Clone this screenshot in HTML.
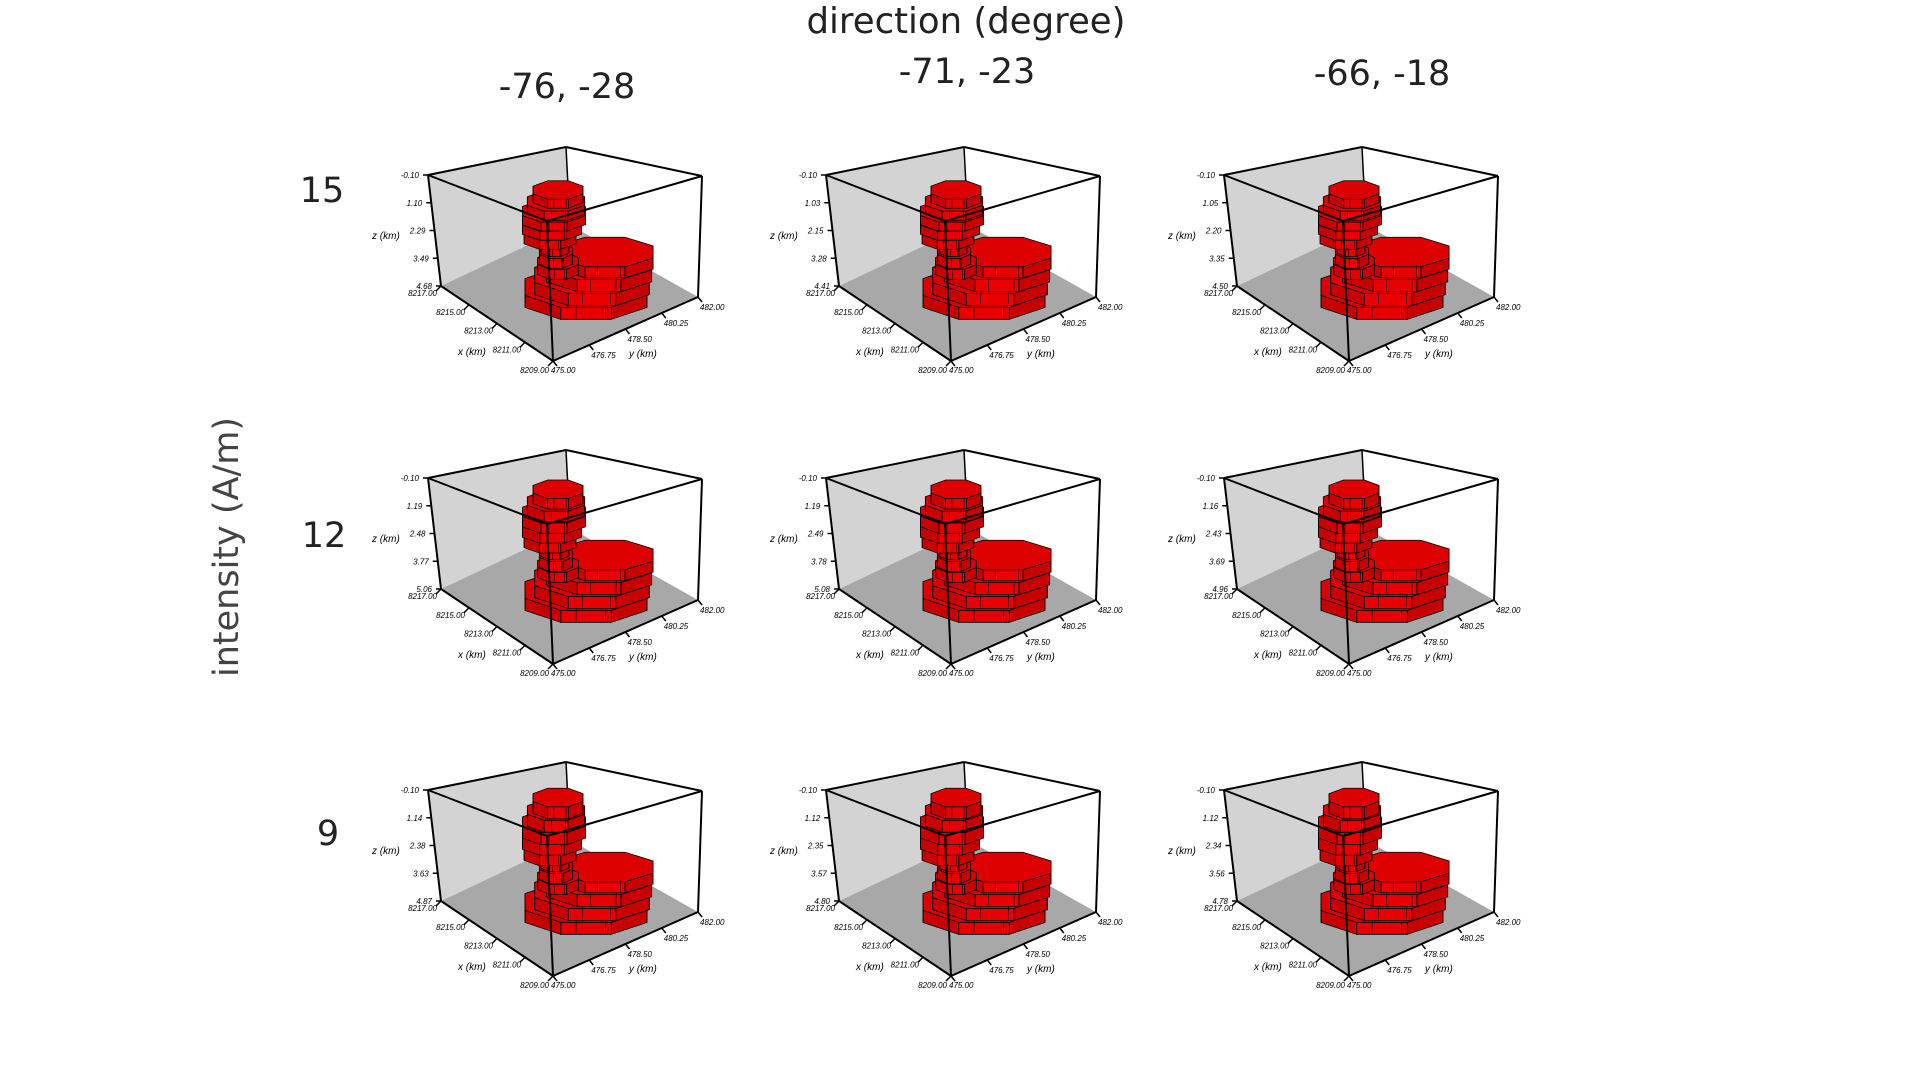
<!DOCTYPE html>
<html><head><meta charset="utf-8"><style>
body{margin:0;background:#fff;}
svg{display:block;font-family:"Liberation Sans",sans-serif;}
.big{font-family:"DejaVu Sans","Liberation Sans",sans-serif;}
</style></head><body>
<svg id="fig" width="1920" height="1080" viewBox="0 0 1920 1080" xmlns="http://www.w3.org/2000/svg">
<text class="big" x="966" y="33" font-size="35.5" text-anchor="middle" fill="#222">direction (degree)</text>
<text class="big" transform="translate(238,547) rotate(-90)" font-size="35" text-anchor="middle" fill="#444">intensity (A/m)</text>
<g id="panels"></g>
</svg>
<script>
const colTitles = ["-76, -28", "-71, -23", "-66, -18"];
const rowTitles = ["15", "12", "9"];
const zTicksR1 = [["-0.10","1.10","2.29","3.49","4.68"],["-0.10","1.03","2.15","3.28","4.41"],["-0.10","1.05","2.20","3.35","4.50"]];
const zTicksR2 = [["-0.10","1.19","2.48","3.77","5.06"],["-0.10","1.19","2.49","3.78","5.08"],["-0.10","1.16","2.43","3.69","4.96"]];
const zTicksR3 = [["-0.10","1.14","2.38","3.63","4.87"],["-0.10","1.12","2.35","3.57","4.80"],["-0.10","1.12","2.34","3.56","4.78"]];
const xTicks = ["8217.00","8215.00","8213.00","8211.00","8209.00"];
const yTicks = ["475.00","476.75","478.50","480.25","482.00"];
const zRows = [zTicksR1, zTicksR2, zTicksR3];
const NS="http://www.w3.org/2000/svg";
const root=document.getElementById('panels');
const colTitleX=[567,967,1382], colTitleY=[98,83,85];
const rowTitleX=[322,324,328], rowTitleY=[202,547,845];
const rowY=[175,478,790];
function mk(tag,attrs,parent){const e=document.createElementNS(NS,tag);for(const k in attrs)e.setAttribute(k,attrs[k]);parent.appendChild(e);return e;}
colTitles.forEach((t,i)=>{const e=mk('text',{x:colTitleX[i],y:colTitleY[i],'font-size':35,'text-anchor':'middle',fill:'#222',class:'big'},root);e.textContent=t;

});
rowTitles.forEach((t,i)=>{const e=mk('text',{x:rowTitleX[i],y:rowTitleY[i],'font-size':35,'text-anchor':'middle',fill:'#222',class:'big'},root);e.textContent=t;

});
const TL=[0,0],B=[138,-28],TR=[274,1],F=[119,46],BL=[13,111],BF=[125,186],BR=[270,122],BB=[142,50];
const pts=a=>a.map(p=>p.join(',')).join(' ');
function lerp(a,b,t){return [a[0]+(b[0]-a[0])*t,a[1]+(b[1]-a[1])*t];}
function slab(g,cx,cy,rx,ry,h){
  const P=[];for(let k=0;k<8;k++){const a=(k*45+22.5)*Math.PI/180;P.push([cx+rx*Math.cos(a),cy+ry*Math.sin(a)]);}
  for(let k=0;k<8;k++){const p1=P[k],p2=P[(k+1)%8];if((p1[1]+p2[1])/2>=cy-0.5){
    const s=mk('polygon',{points:pts([p1,p2,[p2[0],p2[1]+h],[p1[0],p1[1]+h]]),fill:k%2?'#e80000':'#c80000',stroke:'#000','stroke-width':0.8},g);
    
    }}
  const t=mk('polygon',{points:pts(P),fill:'#dd0000',stroke:'#000','stroke-width':0.8},g);
  
  
  for(let j=1;j<3;j++){const x=cx-rx*0.6+j*rx*0.45;mk('line',{x1:x,y1:cy+ry*0.85,x2:x,y2:cy+ry*0.85+h,stroke:'#000','stroke-width':0.6},g);}
}
const lower=[[158,112,66,22,12],[164,100,62,20,12],[171,88,57,18,12],[177,77,52,16,11]];
const neck=[[130,86,22,9,10],[128,76,18,8,10],[127,66,15,6,10]];
const head=[[122,56,28,10,9],[124,46,32,11,9],[126,36,34,12,9],[128,26,31,11,9],[130,15,27,10,9]];
for(let r=0;r<3;r++)for(let c=0;c<3;c++){
  const g=mk('g',{transform:`translate(${428+c*398},${rowY[r]})`},root);
  
  
  const lw=mk('polygon',{points:pts([TL,B,BB,BL]),fill:'#d3d3d3'},g);
  
  const fl=mk('polygon',{points:pts([BL,BB,BR,BF]),fill:'#a8a8a8'},g);
  
  mk('line',{x1:B[0],y1:B[1],x2:BB[0],y2:BB[1],stroke:'#000','stroke-width':1.5},g);
  const stretch=r*6;
  lower.forEach(s=>slab(g,s[0],s[1],s[2],s[3],s[4]));
  neck.forEach(s=>slab(g,s[0],s[1],s[2],s[3],s[4]));
  head.forEach((s,i)=>slab(g,s[0],s[1]-stretch*0.25*(i+1)/2,s[2],s[3],s[4]+stretch*0.25));
  [[TL,B],[B,TR],[TL,F],[F,TR],[TL,BL],[TR,BR],[BL,BF],[BF,BR],[F,BF]].forEach(e=>{
    mk('line',{x1:e[0][0],y1:e[0][1],x2:e[1][0],y2:e[1][1],stroke:'#000','stroke-width':2},g);});
  const zt=zRows[r][c];
  zt.forEach((t,i)=>{const p=lerp(TL,BL,i/4);mk('line',{x1:p[0]-5,y1:p[1],x2:p[0],y2:p[1],stroke:'#000','stroke-width':1.5},g);
    const e=mk('text',{x:p[0]-9,y:p[1]+3,'font-size':8,'font-style':'italic','text-anchor':'end'},g);e.textContent=t;
    });
  xTicks.forEach((t,i)=>{const p=lerp(BL,BF,i/4);mk('line',{x1:p[0],y1:p[1],x2:p[0]-5,y2:p[1]+5,stroke:'#000','stroke-width':1.5},g);
    const e=mk('text',{x:p[0]-4,y:p[1]+(i==4?12:10),'font-size':8,'font-style':'italic','text-anchor':'end'},g);e.textContent=t;
    });
  yTicks.forEach((t,i)=>{const p=lerp(BF,BR,i/4);mk('line',{x1:p[0],y1:p[1],x2:p[0]+4,y2:p[1]+5,stroke:'#000','stroke-width':1.5},g);
    const e=mk('text',{x:p[0]+(i==0?-2:2),y:p[1]+(i==0?12:13),'font-size':8,'font-style':'italic','text-anchor':'start'},g);e.textContent=t;
    });
  const zl=mk('text',{x:-56,y:64,'font-size':10,'font-style':'italic'},g);zl.textContent='z (km)';
  
  const xl=mk('text',{x:30,y:180,'font-size':10,'font-style':'italic'},g);xl.textContent='x (km)';
  
  const yl=mk('text',{x:201,y:182,'font-size':10,'font-style':'italic'},g);yl.textContent='y (km)';
  
}
</script>
</body></html>
